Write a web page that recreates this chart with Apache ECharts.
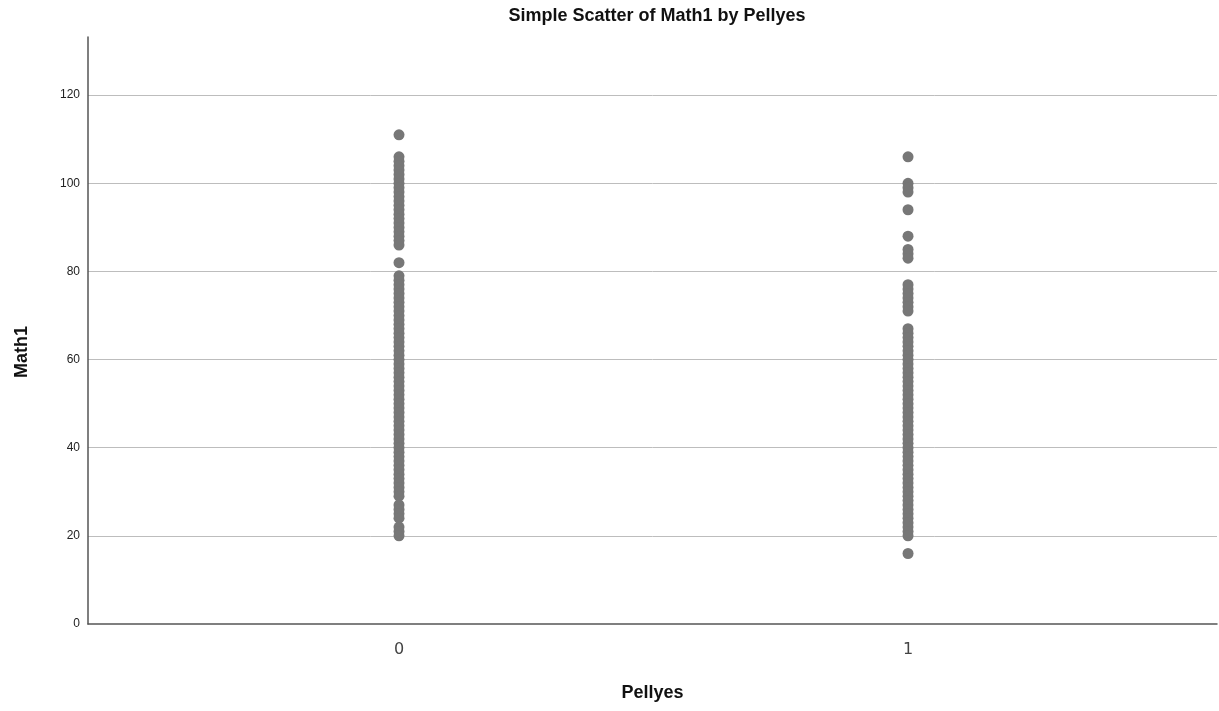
<!DOCTYPE html>
<html>
<head>
<meta charset="utf-8">
<script src="https://cdn.jsdelivr.net/npm/echarts@6/dist/echarts.min.js"></script>
<style>
html,body{margin:0;padding:0;background:#fff;}
#chart{width:1219px;height:711px;}
</style>
</head>
<body>
<div id="chart"></div>
<script>
// Data
const categories = [0, 1];
const xTickLabels = ['0', '1'];
const yTicks = [0, 20, 40, 60, 80, 100, 120];
const math1Pell0 = [111, 106, 105, 104, 103, 102, 101, 100, 99, 98, 97, 96, 95, 94, 93, 92, 91, 90, 89, 88, 87, 86,
  82, 79, 78, 77, 76, 75, 74, 73, 72, 71, 70, 69, 68, 67, 66, 65, 64, 63, 62, 61, 60, 59, 58, 57, 56, 55, 54, 53,
  52, 51, 50, 49, 48, 47, 46, 45, 44, 43, 42, 41, 40, 39, 38, 37, 36, 35, 34, 33, 32, 31, 30, 29,
  27, 26, 25, 24, 22, 21, 20];
const math1Pell1 = [106, 100, 99, 98, 94, 88, 85, 84, 83, 77, 76, 75, 74, 73, 72, 71,
  67, 66, 65, 64, 63, 62, 61, 60, 59, 58, 57, 56, 55, 54, 53, 52, 51, 50, 49, 48, 47, 46, 45, 44, 43, 42,
  41, 40, 39, 38, 37, 36, 35, 34, 33, 32, 31, 30, 29, 28, 27, 26, 25, 24, 23, 22, 21, 20, 16];

const points = [];
math1Pell0.forEach(v => points.push([categories[0], v]));
math1Pell1.forEach(v => points.push([categories[1], v]));

const chart = echarts.init(document.getElementById('chart'), null, {renderer: 'canvas'});
chart.setOption({
  backgroundColor: '#ffffff',
  animation: false,
  title: {
    text: 'Simple Scatter of Math1 by Pellyes',
    left: 652, top: 2, textAlign: 'center',
    textStyle: {fontFamily: 'Liberation Sans, Arial', fontSize: 18, fontWeight: 'bold', color: '#111'}
  },
  grid: {left: 88, right: 2, top: 37, bottom: 87, containLabel: false},
  xAxis: {
    type: 'value',
    min: -0.611, max: 1.607,
    name: 'Pellyes',
    nameLocation: 'middle',
    nameGap: 60,
    nameTextStyle: {fontFamily: 'Liberation Sans, Arial', fontSize: 18, fontWeight: 'bold', color: '#111'},
    axisLine: {show: true, onZero: false, lineStyle: {color: '#555', width: 1.5}},
    axisTick: {show: false},
    splitLine: {show: false},
    axisLabel: {
      customValues: categories,
      formatter: v => xTickLabels[categories.indexOf(v)] ?? '',
      fontFamily: 'DejaVu Sans, Liberation Sans, Arial', fontSize: 16, color: '#444', margin: 18
    }
  },
  yAxis: {
    type: 'value',
    min: 0, max: 133.2, interval: 20,
    axisLine: {show: true, onZero: false, lineStyle: {color: '#555', width: 1.5}},
    axisTick: {show: false},
    splitLine: {show: true, showMinLine: false, showMaxLine: false, lineStyle: {color: '#bdbdbd', width: 1}},
    axisLabel: {
      customValues: yTicks,
      fontFamily: 'Liberation Sans, Arial', fontSize: 12, color: '#222', margin: 8
    }
  },
  graphic: [{
    type: 'text',
    x: 22, y: 352,
    rotation: Math.PI / 2,
    style: {
      text: 'Math1', fill: '#111',
      font: 'bold 18px "Liberation Sans", Arial',
      textAlign: 'center', textVerticalAlign: 'middle'
    }
  }],
  series: [{
    type: 'scatter',
    data: points,
    symbol: 'circle',
    symbolSize: 11,
    itemStyle: {color: '#777777', opacity: 1}
  }]
});
</script>
</body>
</html>
